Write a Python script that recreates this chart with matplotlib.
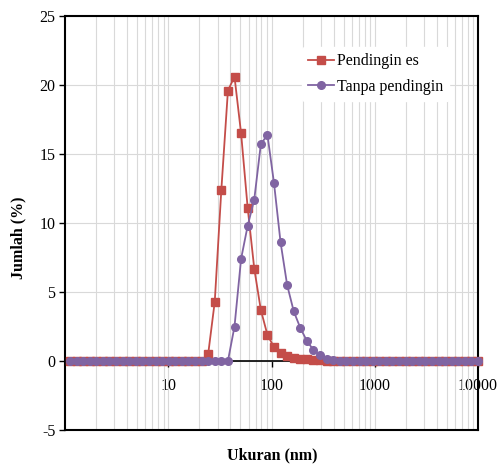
import matplotlib
matplotlib.use("Agg")
import matplotlib.pyplot as plt
from matplotlib.ticker import FixedLocator, NullFormatter

ukuran = [1.117, 1.294, 1.499, 1.736, 2.010, 2.328, 2.696, 3.122, 3.615, 4.187,
          4.849, 5.615, 6.503, 7.531, 8.721, 10.10, 11.70, 13.54, 15.69, 18.17,
          21.04, 24.36, 28.21, 32.67, 37.84, 43.82, 50.75, 58.77, 68.06, 78.82,
          91.28, 105.7, 122.4, 141.8, 164.2, 190.1, 220.2, 255.0, 295.3, 342.0,
          396.1, 458.7, 531.2, 615.1, 712.4, 825.0, 955.4, 1106, 1281, 1484,
          1718, 1990, 2305, 2669, 3091, 3580, 4145, 4801, 5560, 6439,
          7456, 8635, 10000]

pendingin_es = [0, 0, 0, 0, 0, 0, 0, 0, 0, 0,
                0, 0, 0, 0, 0, 0, 0, 0, 0, 0,
                0, 0.5, 4.3, 12.4, 19.6, 20.6, 16.5, 11.1, 6.7, 3.7,
                1.9, 1.0, 0.55, 0.35, 0.25, 0.18, 0.12, 0.08, 0.05, 0.02,
                0, 0, 0, 0, 0, 0, 0, 0, 0, 0,
                0, 0, 0, 0, 0, 0, 0, 0, 0, 0,
                0, 0, 0]

tanpa_pendingin = [0, 0, 0, 0, 0, 0, 0, 0, 0, 0,
                   0, 0, 0, 0, 0, 0, 0, 0, 0, 0,
                   0, 0, 0, 0, 0, 2.5, 7.4, 9.8, 11.7, 15.7,
                   16.4, 12.9, 8.6, 5.5, 3.6, 2.4, 1.45, 0.8, 0.4, 0.15,
                   0.05, 0, 0, 0, 0, 0, 0, 0, 0, 0,
                   0, 0, 0, 0, 0, 0, 0, 0, 0, 0,
                   0, 0, 0]

series_labels = ["Pendingin es", "Tanpa pendingin"]
x_tick_values = [10, 100, 1000, 10000]
x_tick_labels = ["10", "100", "1000", "10000"]
y_ticks = [-5, 0, 5, 10, 15, 20, 25]

plt.rcParams['font.family'] = ['Liberation Serif', 'DejaVu Serif']

fig = plt.figure(figsize=(4.98, 4.66), dpi=100)
ax = fig.add_axes([65/498, 1 - 430/466, (478 - 65)/498, (430 - 16)/466])

red = '#C44D49'
purple = '#8064A2'

ax.plot(ukuran, pendingin_es, color=red, marker='s', markersize=5.5, lw=1.3,
        label=series_labels[0], clip_on=False, zorder=4)
ax.plot(ukuran, tanpa_pendingin, color=purple, marker='o', markersize=5.5, lw=1.3,
        label=series_labels[1], clip_on=False, zorder=5)

ax.set_xscale('log')
ax.set_xlim(1, 10000)
ax.set_ylim(-5, 25)

ax.xaxis.set_major_locator(FixedLocator(x_tick_values))
ax.set_xticklabels(x_tick_labels)
ax.xaxis.set_minor_locator(FixedLocator([m * 10**d for d in range(0, 4) for m in range(2, 10)]))
ax.xaxis.set_minor_formatter(NullFormatter())
ax.set_yticks(y_ticks)
ax.set_yticklabels([str(v) for v in y_ticks])

ax.grid(True, which='major', axis='both', color='#d9d9d9', lw=0.8, zorder=0)
ax.grid(True, which='minor', axis='x', color='#d9d9d9', lw=0.8, zorder=0)
ax.set_axisbelow(True)

# x axis crosses at y=0
ax.spines['bottom'].set_position(('data', 0))
ax.spines['bottom'].set_linewidth(1.2)
ax.spines['bottom'].set_zorder(3)
for s in ['left', 'right', 'top']:
    ax.spines[s].set_linewidth(1.5)
    ax.spines[s].set_color('black')
ax.axhline(-5, color='black', lw=1.5, clip_on=False, zorder=6)

ax.tick_params(axis='x', which='major', direction='out', length=4, width=1,
               labelsize=11.5, pad=8)
ax.tick_params(axis='x', which='minor', length=0)
ax.tick_params(axis='y', direction='out', length=4, width=1, labelsize=11.5, pad=3)

fig.text(18/498, 1 - 238/466, 'Jumlah (%)', fontsize=11.5, fontweight='bold',
         rotation=90, ha='center', va='center')
fig.text(272/498, 1 - 455/466, 'Ukuran (nm)', fontsize=11.5, fontweight='bold',
         ha='center', va='center')

leg = ax.legend(loc='upper right', bbox_to_anchor=(0.95, 0.945), frameon=True,
                fontsize=11.5, handlelength=1.6, handletextpad=0.2,
                labelspacing=0.6, borderpad=0.4)
leg.get_frame().set_edgecolor('white')
leg.get_frame().set_facecolor('white')
leg.get_frame().set_alpha(1)

fig.savefig('out.png', dpi=100)
